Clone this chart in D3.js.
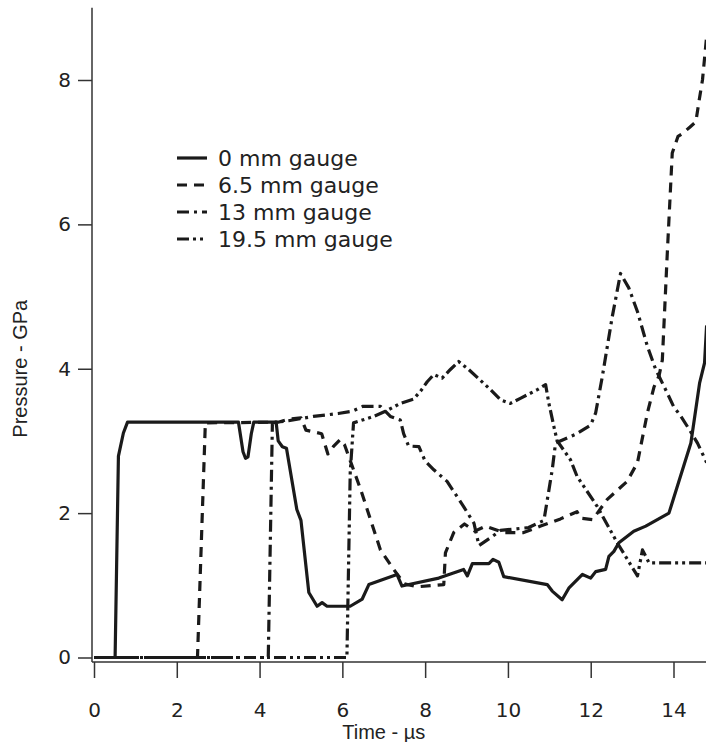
<!DOCTYPE html>
<html lang="en">
<head>
    <meta charset="UTF-8">
    <title>Gauge pressure</title>
    <script src="https://cdn.jsdelivr.net/npm/d3@7"></script>
    <style>
        body { margin: 0; background: #fff; }
        .axis text { font-family: "DejaVu Sans", sans-serif; font-size: 20px; fill: #222; }
        .axis line, .axis path { stroke: #333; stroke-width: 1.5px; }
        .title { font-family: "Liberation Sans", sans-serif; font-size: 20px; fill: #222; }
        .legend text { font-family: "DejaVu Sans", sans-serif; font-size: 22px; fill: #222; }
        .series { fill: none; stroke: #1a1a1a; stroke-width: 3.2px; stroke-linejoin: round; }
    </style>
</head>
<body>
<div id="chart"></div>
<script>
    const width = 706;
    const height = 742;

    // time (us), pressure (GPa)
    const gauge0 = [[0,0],[0.51,0],[0.59,2.79],[0.71,3.11],[0.81,3.26],[3.49,3.26],[3.6,2.85],[3.66,2.76],
        [3.72,2.78],[3.8,3.1],[3.86,3.26],[4.4,3.26],[4.45,3.0],[4.55,2.92],[4.65,2.9],[4.9,2.05],[5.0,1.9],
        [5.19,0.9],[5.39,0.71],[5.51,0.76],[5.63,0.71],[6.19,0.71],[6.48,0.81],[6.64,1.01],[7.32,1.15],
        [7.44,0.99],[8.33,1.1],[8.93,1.22],[9.02,1.13],[9.14,1.3],[9.54,1.3],[9.64,1.36],[9.78,1.32],
        [9.9,1.12],[10.95,1.01],[11.07,0.92],[11.31,0.8],[11.47,0.96],[11.8,1.15],[12.0,1.1],[12.12,1.19],
        [12.36,1.22],[12.44,1.4],[12.56,1.47],[12.68,1.59],[13.04,1.75],[13.33,1.82],[13.89,2.0],
        [14.42,2.97],[14.63,3.8],[14.75,4.08],[14.8,4.6]];

    const gauge65 = [[0,0],[2.5,0],[2.69,3.25],[4.45,3.26],[4.7,3.3],[5.0,3.32],[5.12,3.15],[5.5,3.1],
        [5.65,2.82],[5.78,2.92],[5.95,3.02],[6.05,2.95],[6.44,2.33],[6.92,1.49],[7.24,1.22],[7.5,1.02],
        [7.81,0.98],[8.45,1.01],[8.49,1.45],[8.69,1.73],[8.95,1.85],[9.2,1.75],[9.46,1.82],[9.9,1.73],
        [10.38,1.73],[10.79,1.82],[11.27,1.92],[11.67,2.02],[11.75,1.93],[12.04,1.91],[12.16,2.0],
        [12.4,2.19],[12.88,2.44],[13.13,2.7],[13.37,3.39],[13.53,3.75],[13.65,3.9],[13.73,4.12],
        [13.85,5.6],[13.97,6.99],[14.11,7.22],[14.22,7.26],[14.4,7.35],[14.54,7.42],[14.62,7.72],
        [14.7,8.0],[14.8,8.6]];

    const gauge13 = [[0,0],[4.21,0],[4.31,3.25],[4.42,3.26],[4.7,3.28],[5.3,3.34],[5.9,3.38],[6.23,3.41],
        [6.5,3.48],[6.92,3.48],[7.16,3.34],[7.4,3.29],[7.48,3.1],[7.6,2.93],[7.85,2.92],[8.0,2.72],
        [8.21,2.6],[8.53,2.44],[8.93,2.09],[9.18,1.86],[9.3,1.55],[9.58,1.66],[9.82,1.76],[10.5,1.8],
        [10.87,1.9],[11.07,2.6],[11.15,2.97],[11.63,3.09],[12.0,3.22],[12.12,3.39],[12.28,3.89],
        [12.52,4.72],[12.72,5.32],[12.92,5.12],[13.13,4.79],[13.37,4.31],[13.57,3.99],[13.81,3.71],
        [14.0,3.48],[14.18,3.34],[14.38,3.16],[14.58,2.97],[14.8,2.7]];

    const gauge195 = [[0,0],[6.11,0],[6.19,2.56],[6.27,3.25],[6.76,3.34],[7.04,3.41],[7.4,3.52],[7.72,3.58],
        [7.89,3.69],[8.05,3.82],[8.21,3.92],[8.41,3.87],[8.61,3.99],[8.81,4.1],[9.05,3.99],[9.58,3.71],
        [9.82,3.57],[10.06,3.52],[10.3,3.59],[10.71,3.71],[10.91,3.78],[10.99,3.52],[11.11,3.2],
        [11.19,3.0],[11.51,2.74],[11.67,2.51],[12.16,2.09],[12.64,1.59],[13.13,1.13],[13.25,1.49],
        [13.41,1.31],[14.8,1.31]];

    const seriesNames = ["0 mm gauge", "6.5 mm gauge", "13 mm gauge", "19.5 mm gauge"];
    const seriesDash = ["none", "10,7", "12,5,3,5", "12,4,3,4,3,4"];
    const seriesData = [gauge0, gauge65, gauge13, gauge195];

    const xTicks = [0, 2, 4, 6, 8, 10, 12, 14];
    const yTicks = [0, 2, 4, 6, 8];

    const AXIS_X = 92;
    const AXIS_Y = 662;

    const x = d3.scaleLinear().domain([0, 14]).range([94, 673.5]);
    const y = d3.scaleLinear().domain([0, 8]).range([657.5, 80]);

    const svg = d3.select("#chart")
        .append("svg")
        .attr("width", width)
        .attr("height", height);

    svg.append("defs").append("clipPath")
        .attr("id", "plotclip")
        .append("rect")
        .attr("x", AXIS_X)
        .attr("y", y(9))
        .attr("width", width - AXIS_X)
        .attr("height", AXIS_Y - y(9));

    // axes
    const yAxis = svg.append("g")
        .attr("class", "axis")
        .attr("transform", "translate(" + AXIS_X + ",0)")
        .call(d3.axisLeft(y).tickValues(yTicks).tickSize(14).tickPadding(7));
    yAxis.select(".domain").remove();
    yAxis.append("line")
        .attr("x1", 0).attr("x2", 0)
        .attr("y1", y(9)).attr("y2", AXIS_Y);

    const xAxis = svg.append("g")
        .attr("class", "axis")
        .attr("transform", "translate(0," + AXIS_Y + ")")
        .call(d3.axisBottom(x).tickValues(xTicks).tickSize(16).tickPadding(25));
    xAxis.select(".domain").remove();
    xAxis.append("line")
        .attr("x1", AXIS_X).attr("x2", width)
        .attr("y1", 0).attr("y2", 0);

    svg.append("text")
        .attr("class", "title")
        .attr("x", x(7))
        .attr("y", 739)
        .attr("text-anchor", "middle")
        .text("Time - \u00b5s");

    svg.append("text")
        .attr("class", "title")
        .attr("transform", "translate(27," + y(4) + ") rotate(-90)")
        .attr("text-anchor", "middle")
        .text("Pressure - GPa");

    // series
    const line = d3.line()
        .x(function (d) { return x(d[0]); })
        .y(function (d) { return y(d[1]); });

    svg.append("g")
        .attr("clip-path", "url(#plotclip)")
        .selectAll("path.series")
        .data(seriesData)
        .enter()
        .append("path")
        .attr("class", "series")
        .attr("d", line)
        .attr("stroke-dasharray", function (d, i) { return seriesDash[i]; });

    // legend
    const legend = svg.append("g")
        .attr("class", "legend")
        .attr("transform", "translate(177,158)");

    const rows = legend.selectAll("g")
        .data(seriesNames)
        .enter()
        .append("g")
        .attr("transform", function (d, i) { return "translate(0," + (i * 27) + ")"; });

    rows.append("line")
        .attr("class", "series")
        .attr("x1", 0).attr("x2", 30)
        .attr("y1", 0).attr("y2", 0)
        .attr("stroke-dasharray", function (d, i) { return seriesDash[i]; });

    rows.append("text")
        .attr("x", 41)
        .attr("y", 0)
        .attr("dy", "0.35em")
        .text(function (d) { return d; });
</script>
</body>
</html>
